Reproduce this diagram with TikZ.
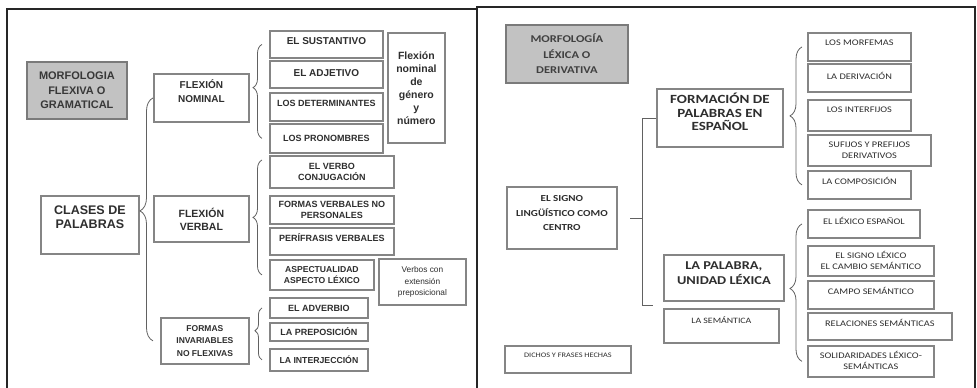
\documentclass[tikz,border=0pt]{standalone}
\usepackage{fontspec}
\setmainfont{Liberation Sans}
\newfontfamily\calib[FakeStretch=1.2]{Carlito}
\usepackage{tikz}
\usetikzlibrary{positioning,decorations.pathreplacing}
% zero-width strut that lifts a label inside its box
\newcommand{\dlift}[1]{\rule[-#1]{0pt}{0pt}}

\begin{document}
\begin{tikzpicture}[
  x=1pt, y=-1pt,
  frm/.style={line width=2.6pt, draw=black!85},
  box/.style={draw=black!48, line width=1.8pt, fill=white, rectangle, anchor=north west, align=center,
    inner sep=1pt, text=black!82, font=\bfseries\fontsize{9}{10.5}\selectfont},
  gbox/.style={box, fill=black!24, draw=black!52},
  kid/.style={box, font=\bfseries\fontsize{9}{10.5}\selectfont},
  rkid/.style={box, font=\calib\fontsize{8.6}{11}\selectfont},
  brc/.style={decorate, decoration={brace, amplitude=#1}, draw=black!62, line width=0.8pt},
  brc/.default=9pt,
  ln/.style={draw=black!62, line width=0.8pt}
]
\useasboundingbox (0,0) rectangle (977,388);

% frames
\draw[frm] (7,392) -- (7,9) -- (477,9);
\draw[frm] (477,392) -- (477,7) -- (975,7) -- (975,392);

% --- left panel ---
\node[gbox, minimum width=100, minimum height=57, font=\bfseries\fontsize{11}{14.5}\selectfont, text=black!78] (mfg) at (26,61) {MORFOLOGIA\\FLEXIVA O\\GRAMATICAL};
\node[box, minimum width=98, minimum height=58, font=\bfseries\fontsize{12.5}{14.5}\selectfont] (cls) at (40,195) {CLASES DE\\PALABRAS\dlift{16pt}};

\node[box, minimum width=95, minimum height=48, font=\bfseries\fontsize{10}{14}\selectfont] (nom) at (153,73) {FLEXIÓN\\NOMINAL\dlift{14pt}};
\node[box, minimum width=95, minimum height=46, font=\bfseries\fontsize{10.5}{13}\selectfont] (verb) at (153,195) {FLEXIÓN\\VERBAL};
\node[box, minimum width=88, minimum height=46, font=\bfseries\fontsize{8.5}{12.5}\selectfont] (inv) at (160,317) {FORMAS\\INVARIABLES\\NO FLEXIVAS};

\node[kid, minimum width=113, minimum height=27, font=\bfseries\fontsize{10}{12}\selectfont] (sust) at (269,30) {EL SUSTANTIVO\dlift{6pt}};
\node[kid, minimum width=113, minimum height=27, font=\bfseries\fontsize{10}{12}\selectfont] (adj) at (269,60) {EL ADJETIVO\dlift{3pt}};
\node[kid, minimum width=113, minimum height=28] (det) at (269,92) {LOS DETERMINANTES\dlift{8pt}};
\node[kid, minimum width=113, minimum height=29] (pron) at (269,123) {LOS PRONOMBRES};
\node[box, minimum width=57, minimum height=110, font=\bfseries\fontsize{10.5}{13}\selectfont] (gen) at (387,32) {Flexión\\nominal\\de\\género\\y\\número};

\node[kid, minimum width=124, minimum height=32] (conj) at (269,155) {EL VERBO\\CONJUGACIÓN};
\node[kid, minimum width=124, minimum height=28] (fnp) at (269,195) {FORMAS VERBALES NO\\PERSONALES};
\node[kid, minimum width=124, minimum height=27] (peri) at (269,227) {PERÍFRASIS VERBALES\dlift{7pt}};
\node[kid, minimum width=104, minimum height=30, font=\bfseries\fontsize{8.6}{11}\selectfont] (asp) at (269,259) {ASPECTUALIDAD\\ASPECTO LÉXICO};
\node[box, minimum width=87, minimum height=46, font=\fontsize{8.3}{11.5}\selectfont] (vext) at (378,258) {Verbos con\\extensión\\preposicional};

\node[kid, minimum width=98, minimum height=20] (adv) at (269,297) {EL ADVERBIO};
\node[kid, minimum width=98, minimum height=18] (prep) at (269,322) {LA PREPOSICIÓN};
\node[kid, minimum width=98, minimum height=22, font=\bfseries\fontsize{8.7}{10}\selectfont] (interj) at (269,348) {LA INTERJECCIÓN};

% braces, left
\draw[brc=13pt, decoration={aspect=0.535}] (nom.west |- inv.west) -- (nom.west);
\draw[brc, decoration={aspect=0.54}] ([xshift=-7pt]pron.west) -- ([xshift=-7pt]sust.west);
\draw[brc, decoration={aspect=0.5}] ([xshift=-7pt]asp.west) -- ([xshift=-7pt,yshift=-5pt]conj.north west);
\draw[brc=7pt, decoration={aspect=0.56}] ([xshift=-7pt]interj.west) -- ([xshift=-7pt]adv.west);

% --- right panel ---
\node[gbox, minimum width=122, minimum height=58, font=\calib\bfseries\fontsize{10.4}{15.5}\selectfont, text=black!75] (mld) at (505,24) {MORFOLOGÍA\\LÉXICA O\\DERIVATIVA};
\node[box, minimum width=110, minimum height=62, font=\calib\bfseries\fontsize{9.2}{14.5}\selectfont] (sig) at (506,186) {EL SIGNO\\LINGÜÍSTICO COMO\\CENTRO\dlift{9pt}};
\node[box, minimum width=126, minimum height=27, font=\calib\fontsize{6.9}{8}\selectfont] (dfh) at (504,345) {DICHOS Y FRASES HECHAS\dlift{9pt}};

\node[box, minimum width=126, minimum height=58, font=\calib\bfseries\fontsize{12.5}{13.5}\selectfont] (form) at (656,88) {FORMACIÓN DE\\PALABRAS EN\\ESPAÑOL\dlift{12pt}};
\node[box, minimum width=120, minimum height=46, font=\calib\bfseries\fontsize{12}{15}\selectfont] (pal) at (663,254) {LA PALABRA,\\UNIDAD LÉXICA\dlift{9pt}};
\node[box, minimum width=115, minimum height=34, font=\calib\fontsize{8.2}{10}\selectfont] (sem) at (663,308) {LA SEMÁNTICA\dlift{12pt}};

\node[rkid, minimum width=103, minimum height=28] (morf) at (807,32) {LOS MORFEMAS\dlift{8pt}};
\node[rkid, minimum width=103, minimum height=28] (deriv) at (807,63) {LA DERIVACIÓN\dlift{4pt}};
\node[rkid, minimum width=103, minimum height=31] (interf) at (807,99) {LOS INTERFIJOS\dlift{12pt}};
\node[rkid, minimum width=123, minimum height=31] (sufi) at (807,134) {SUFIJOS Y PREFIJOS\\DERIVATIVOS};
\node[rkid, minimum width=103, minimum height=28] (comp) at (807,170) {LA COMPOSICIÓN\dlift{8pt}};

\node[rkid, minimum width=112, minimum height=28] (lex) at (807,209) {EL LÉXICO ESPAÑOL\dlift{6pt}};
\node[rkid, minimum width=126, minimum height=30] (slex) at (807,245) {EL SIGNO LÉXICO\\EL CAMBIO SEMÁNTICO};
\node[rkid, minimum width=126, minimum height=28] (campo) at (807,280) {CAMPO SEMÁNTICO\dlift{8pt}};
\node[rkid, minimum width=144, minimum height=27] (rel) at (807,312) {RELACIONES SEMÁNTICAS\dlift{7pt}};
\node[rkid, minimum width=126, minimum height=31] (sol) at (807,345) {SOLIDARIDADES LÉXICO-\\SEMÁNTICAS\dlift{2pt}};

% bracket and braces, right
\coordinate (bk) at (642,305);
\draw[ln] (form.west) -| (bk) -- ++(11,0);
\draw[ln] (bk |- sig.east) -- ++(-12,0);
\draw[brc=12pt, decoration={aspect=0.5}] ([xshift=-5pt]comp.west) -- ([xshift=-5pt]morf.west);
\draw[brc=12pt, decoration={aspect=0.53}] ([xshift=-5pt]sol.west) -- ([xshift=-5pt]lex.west);
\end{tikzpicture}
\end{document}
